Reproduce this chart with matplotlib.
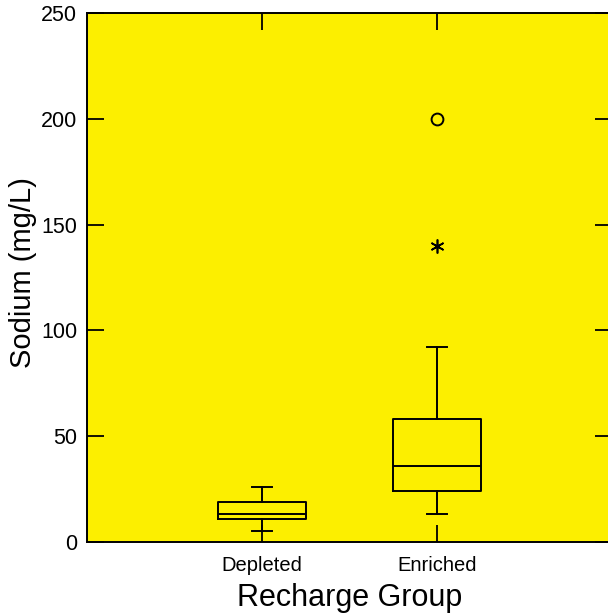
import matplotlib
matplotlib.use("Agg")
import matplotlib.pyplot as plt

plt.rcParams['font.family'] = ['Liberation Sans', 'DejaVu Sans']

groups = ["Depleted", "Enriched"]
whis_lo = [5, 13]
q1 = [11, 24]
medians = [13, 36]
q3 = [19, 58]
whis_hi = [26, 92]
# outliers of the Enriched group
far_out = [200]     # circle
near_out = [140]    # star

stats = []
for i in range(len(groups)):
    stats.append({"label": groups[i], "whislo": whis_lo[i], "q1": q1[i],
                  "med": medians[i], "q3": q3[i], "whishi": whis_hi[i],
                  "fliers": []})

fig = plt.figure(figsize=(6.08, 6.13), dpi=100)
ax = fig.add_axes([87 / 608, 71 / 613, 525 / 608, 529 / 613])
ax.set_facecolor("#FCEF00")

lp = dict(color="black", linewidth=1.4)
ax.bxp(stats, positions=[1, 2], widths=0.5, capwidths=0.11, showfliers=False,
       boxprops=lp, whiskerprops=lp, capprops=lp, medianprops=lp)

ax.plot([2] * len(far_out), far_out, "o", mfc="none", mec="black", ms=8.5, mew=1.4)
ax.plot([2] * len(near_out), near_out, marker=(6, 2, 0), ls="none", color="black",
        ms=10, mew=1.2)

ax.set_xlim(0, 3)
ax.set_ylim(0, 250)
ax.set_yticks([0, 50, 100, 150, 200, 250])
ax.set_xticks([1, 2])
ax.set_xticklabels(groups)
ax.tick_params(direction="in", length=12, width=1.3, top=True, right=True)
ax.tick_params(axis="y", labelsize=15.5, pad=7)
ax.tick_params(axis="x", labelsize=14.5, pad=10)
for s in ax.spines.values():
    s.set_linewidth(1.4)

ax.set_xlabel("Recharge Group", fontsize=22, labelpad=6)
ax.set_ylabel("Sodium (mg/L)", fontsize=21)
ax.yaxis.set_label_coords(-0.095, 0.51)

fig.savefig("out.png", dpi=100)
